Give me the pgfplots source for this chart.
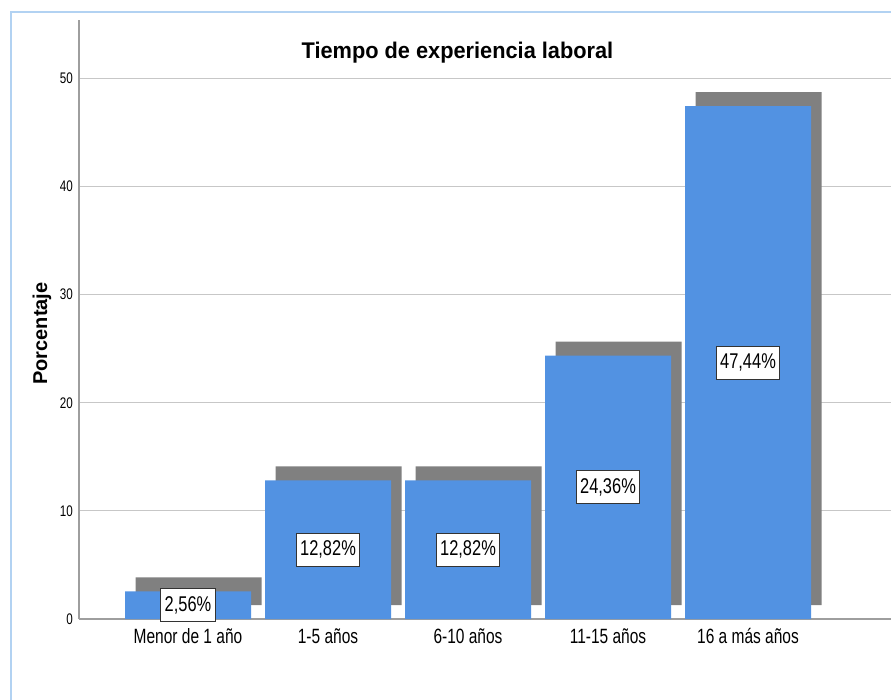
\documentclass[border=0pt]{standalone}
\usepackage{fontspec}
\setmainfont{Liberation Sans}
\newfontfamily\titlefont[FakeStretch=0.96]{Liberation Sans}
\newfontfamily\catfont[FakeStretch=0.75]{Liberation Sans}
\newfontfamily\lblfont[FakeStretch=0.77]{Liberation Sans}
\newfontfamily\tickfont[FakeStretch=0.76]{Liberation Sans}
\usepackage{pgfplots}
\pgfplotsset{compat=1.18}

\definecolor{barblue}{RGB}{82,146,226}
\definecolor{shadowgray}{RGB}{128,128,128}
\definecolor{frameblue}{RGB}{178,210,242}

\begin{document}
\begin{tikzpicture}
\useasboundingbox (0pt,0pt) rectangle (668.25pt,524.25pt);
\clip (0pt,0pt) rectangle (668.25pt,524.25pt);
% outer frame (runs off the right and bottom edges)
\draw[frameblue, line width=1.1pt] (8.25pt,-20pt) rectangle (700pt,515.25pt);

\begin{axis}[
    at={(59.25pt,60pt)}, anchor=south west,
    scale only axis,
    width=609pt, height=449.25pt,
    xmin=-0.7786, xmax=5.0214,
    ymin=0, ymax=55.4,
    axis lines=left,
    axis line style={black!38, line width=1.5pt, -},
    ytick={0,10,20,30,40,50},
    xtick={0,1,2,3,4},
    xticklabels={Menor de 1 año, 1-5 años, 6-10 años, 11-15 años, 16 a más años},
    major tick length=0pt,
    ymajorgrids,
    grid style={black!22, line width=0.8pt},
    /pgf/number format/assume math mode=true,
    yticklabel style={font=\tickfont\fontsize{11.5}{13}\selectfont, anchor=east, inner sep=0pt, xshift=-4.5pt},
    xticklabel style={font=\catfont\fontsize{15.5}{18}\selectfont, anchor=base, inner sep=0pt, yshift=-18pt},
    clip=false,
]

% shadow of each bar, offset up and right
\addplot[ybar, bar width=0.9, bar shift=0pt, fill=shadowgray, draw=none,
    xshift=7.9pt, yshift=10.5pt]
    coordinates {(0,2.56) (1,12.82) (2,12.82) (3,24.36) (4,47.44)};

% the bars
\addplot[ybar, bar width=0.9, bar shift=0pt, fill=barblue, draw=none,
    visualization depends on=rawy \as \rawy,
    nodes near coords={\pgfmathprintnumber[fixed,fixed zerofill,precision=2,use comma]{\pgfplotspointmeta}\%},
    every node near coord/.append style={
        font=\lblfont\fontsize{16}{18}\selectfont,
        fill=white, draw=black!80, line width=0.6pt,
        inner xsep=3pt, inner ysep=5.8pt,
        anchor=center, shift={(axis direction cs:0,-\rawy/2)}},
]
    coordinates {(0,2.56) (1,12.82) (2,12.82) (3,24.36) (4,47.44)};
\end{axis}

\node[anchor=base, font=\titlefont\bfseries\fontsize{17}{20}\selectfont]
    at (343.1pt,480pt) {Tiempo de experiencia laboral};
\node[rotate=90, font=\bfseries\fontsize{15}{18}\selectfont]
    at (31.5pt,274pt) {Porcentaje};
\end{tikzpicture}
\end{document}
